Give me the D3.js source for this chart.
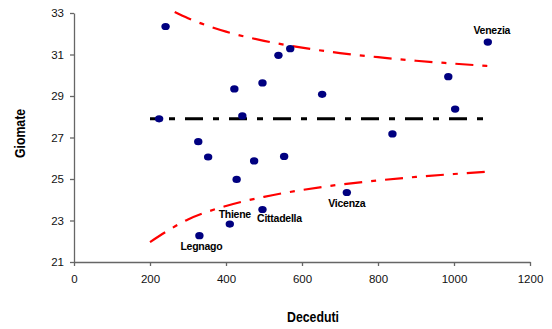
<!DOCTYPE html>
<html>
<head>
<meta charset="utf-8">
<script src="https://cdn.jsdelivr.net/npm/d3@7"></script>
<style>
  body { margin: 0; background: #fff; }
  svg { display: block; font-family: "Liberation Sans", Arial, sans-serif; }
  .tick text { font-size: 11.5px; fill: #111; }
  .axis-title { font-size: 14px; font-weight: bold; }
  .pt-label { font-size: 10.5px; font-weight: bold; letter-spacing: -0.25px; }
</style>
</head>
<body>
<div id="chart"></div>
<script>
// --- Data ---
const deceduti = [241, 224, 327, 353, 422, 443, 496, 474, 538, 569, 653, 838, 553, 985, 1003, 1089, 428, 496, 410, 330, 718];
const giornate = [32.35, 27.9, 26.8, 26.06, 29.34, 28.04, 29.63, 25.87, 30.96, 31.28, 29.08, 27.17, 26.09, 29.93, 28.37, 31.6, 24.98, 23.53, 22.83, 22.27, 24.35];
const nomi = ["", "", "", "", "", "", "", "", "", "", "", "", "", "", "", "Venezia", "", "Cittadella", "Thiene", "Legnago", "Vicenza"];

const mediaX = [200, 1100];
const mediaY = [27.9, 27.9];

const limiteX = [265, 300, 400, 500, 600, 700, 800, 900, 1000, 1100];
const limiteSup = [33.05, 32.75, 32.1, 31.66, 31.33, 31.07, 30.87, 30.7, 30.56, 30.43];
const limiteInfX = [200, 300, 400, 500, 600, 700, 800, 900, 1000, 1100];
const limiteInf = [21.96, 23.05, 23.7, 24.14, 24.47, 24.73, 24.93, 25.1, 25.24, 25.37];

const xTicks = [0, 200, 400, 600, 800, 1000, 1200];
const yTicks = [21, 23, 25, 27, 29, 31, 33];

// label placement relative to the dot (label centre)
const labelOffset = {
    Venezia: [4, -12],
    Legnago: [2, 11],
    Thiene: [5, -10],
    Cittadella: [17, 9],
    Vicenza: [0, 11]
};

// --- Layout ---
const width = 552, height = 329;
const plot = { left: 74, right: 530, top: 13, bottom: 262 };

const svg = d3.select('#chart').append('svg')
    .attr('width', width)
    .attr('height', height);

const x = d3.scaleLinear().domain([0, 1200]).range([plot.left, plot.right]);
const y = d3.scaleLinear().domain([21, 33]).range([plot.bottom, plot.top]);

// --- Axes ---
const xAxis = svg.append('g')
    .attr('transform', `translate(0,${plot.bottom})`)
    .call(d3.axisBottom(x).tickValues(xTicks).tickFormat(d3.format('d'))
        .tickSize(4).tickPadding(9).tickSizeOuter(0));
const yAxis = svg.append('g')
    .attr('transform', `translate(${plot.left},0)`)
    .call(d3.axisLeft(y).tickValues(yTicks).tickFormat(d3.format('d'))
        .tickSize(4).tickPadding(6).tickSizeOuter(0));

[xAxis, yAxis].forEach(g => {
    g.select('.domain').attr('stroke', '#666').attr('stroke-width', 1.3);
    g.selectAll('.tick line').attr('stroke', '#666').attr('stroke-width', 1.3);
    g.attr('font-family', null).attr('font-size', null);
});

// titles are narrow bold in the original, so squeeze them a little
svg.append('text')
    .attr('class', 'axis-title')
    .attr('transform', 'translate(313,322) scale(0.88,1)')
    .attr('text-anchor', 'middle')
    .text('Deceduti');

svg.append('text')
    .attr('class', 'axis-title')
    .attr('transform', 'translate(25,133.5) rotate(-90) scale(0.88,1)')
    .attr('text-anchor', 'middle')
    .text('Giomate');

// --- Lines ---
const line = d3.line()
    .x(d => x(d[0]))
    .y(d => y(d[1]))
    .curve(d3.curveMonotoneX);

svg.append('path')
    .datum(d3.zip(limiteX, limiteSup))
    .attr('d', line)
    .attr('fill', 'none')
    .attr('stroke', '#ff0000')
    .attr('stroke-width', 2.2)
    .attr('stroke-dasharray', '18,9,5,9');

svg.append('path')
    .datum(d3.zip(limiteInfX, limiteInf))
    .attr('d', line)
    .attr('fill', 'none')
    .attr('stroke', '#ff0000')
    .attr('stroke-width', 2.2)
    .attr('stroke-dasharray', '18,9,5,9');

svg.append('path')
    .datum(d3.zip(mediaX, mediaY))
    .attr('d', line)
    .attr('fill', 'none')
    .attr('stroke', '#000')
    .attr('stroke-width', 3)
    .attr('stroke-dasharray', '8,11,6,10,18,10,6,10,18,10,6,10,18,10,6,10,18,10,6,10,18,10,6,10,18,10,6,10,18,10,6,10,18,10,6,10,18,10');

// --- Points ---
const punti = d3.zip(deceduti, giornate, nomi);

svg.append('g')
    .selectAll('ellipse')
    .data(punti)
    .join('ellipse')
    .attr('cx', d => x(d[0]))
    .attr('cy', d => y(d[1]))
    .attr('rx', 4.2)
    .attr('ry', 3.6)
    .attr('fill', '#000080');

svg.append('g')
    .selectAll('text')
    .data(punti.filter(d => d[2]))
    .join('text')
    .attr('class', 'pt-label')
    .attr('x', d => x(d[0]) + labelOffset[d[2]][0])
    .attr('y', d => y(d[1]) + labelOffset[d[2]][1])
    .attr('dy', '0.35em')
    .attr('text-anchor', 'middle')
    .text(d => d[2]);
</script>
</body>
</html>
